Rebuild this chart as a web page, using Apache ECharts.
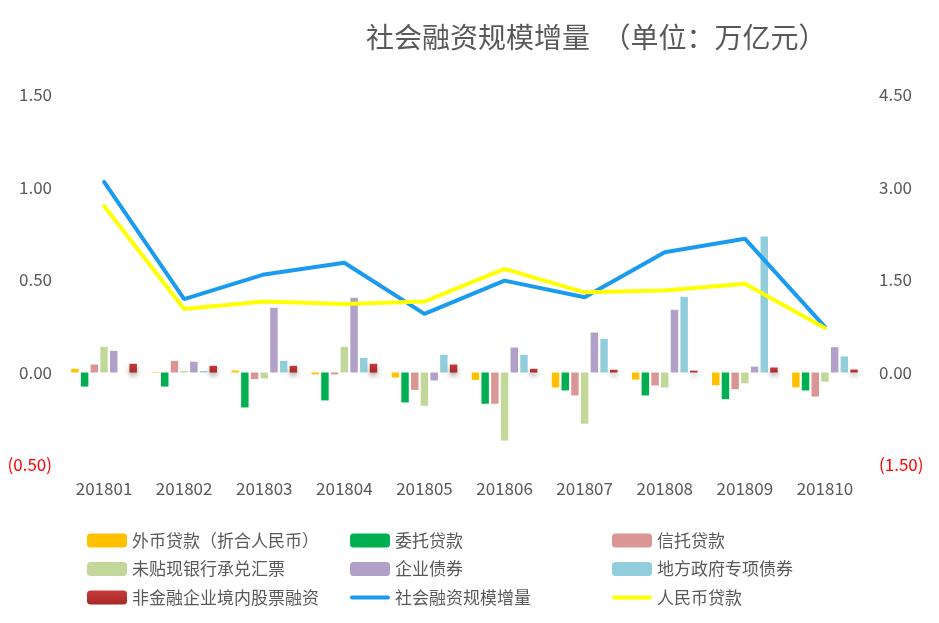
<!DOCTYPE html>
<html>
<head>
<meta charset="utf-8">
<script src="https://cdn.jsdelivr.net/npm/echarts@6/dist/echarts.min.js"></script>
<style>html,body{margin:0;padding:0;background:#fff;}#c{width:939px;height:623px;}</style>
</head>
<body>
<div id="c"></div>
<script>
var categories = ['201801','201802','201803','201804','201805','201806','201807','201808','201809','201810'];
var fxLoans      = [0.02, -0.003, 0.011, -0.01, -0.027, -0.04, -0.081, -0.038, -0.069, -0.08];
var entrusted    = [-0.076, -0.076, -0.189, -0.151, -0.162, -0.169, -0.097, -0.124, -0.144, -0.097];
var trust        = [0.043, 0.063, -0.036, -0.01, -0.094, -0.169, -0.124, -0.07, -0.09, -0.13];
var bankerAccept = [0.139, 0.008, -0.032, 0.139, -0.18, -0.368, -0.277, -0.081, -0.058, -0.05];
var corpBonds    = [0.117, 0.058, 0.35, 0.404, -0.043, 0.135, 0.216, 0.339, 0.032, 0.137];
var localBonds   = [0.0, 0.008, 0.063, 0.079, 0.096, 0.096, 0.182, 0.409, 0.735, 0.087];
var equity       = [0.047, 0.036, 0.036, 0.047, 0.043, 0.02, 0.015, 0.01, 0.027, 0.016];
var tsfTotal     = [3.09, 1.19, 1.59, 1.78, 0.95, 1.49, 1.22, 1.95, 2.17, 0.74];
var rmbLoans     = [2.70, 1.03, 1.15, 1.11, 1.15, 1.68, 1.30, 1.33, 1.44, 0.72];

var names = ['外币贷款（折合人民币）','委托贷款','信托贷款','未贴现银行承兑汇票','企业债券','地方政府专项债券','非金融企业境内股票融资','社会融资规模增量','人民币贷款'];
var barColors = ['#FFC000','#00B050','#DA9694','#C4D79B','#B1A0C7','#92CDDC'];
var barData = [fxLoans, entrusted, trust, bankerAccept, corpBonds, localBonds];

var FONT = '"Noto Sans CJK SC", "Noto Sans", sans-serif';
var LINE_ICON = 'path://M2,0 L38,0 A2,2 0 0 1 38,4 L2,4 A2,2 0 0 1 2,0 Z';

function fmt(v){
  var s = Math.abs(v).toFixed(2);
  return v < 0 ? '{neg|(' + s + ')}' : '{pos|' + s + '}';
}
var labelRich = {
  pos: {color:'#595959', fontSize:17, fontFamily:FONT},
  neg: {color:'#FF0000', fontSize:17, fontFamily:FONT}
};

var series = [];
for (var i = 0; i < barData.length; i++) {
  series.push({
    name: names[i], type: 'bar', yAxisIndex: 0,
    data: barData[i],
    barGap: '30%', barCategoryGap: '18%',
    itemStyle: {color: barColors[i]}
  });
}
series.push({
  name: names[6], type: 'bar', yAxisIndex: 0, data: equity,
  barGap: '30%', barCategoryGap: '18%',
  itemStyle: {
    color: new echarts.graphic.LinearGradient(0,0,0,1,[{offset:0,color:'#C83A3A'},{offset:1,color:'#A82828'}]),
    shadowBlur: 5, shadowColor: 'rgba(0,0,0,0.35)', shadowOffsetY: 3
  }
});
series.push({
  name: names[7], type: 'line', yAxisIndex: 1, data: tsfTotal,
  symbol: 'none', z: 5,
  lineStyle: {color:'#1B9BF0', width:4, cap:'round'},
  itemStyle: {color:'#1B9BF0'}
});
series.push({
  name: names[8], type: 'line', yAxisIndex: 1, data: rmbLoans,
  symbol: 'none', z: 5,
  lineStyle: {color:'#FFFF00', width:4, cap:'round'},
  itemStyle: {color:'#FFFF00'}
});

function legendCol(left, data){
  return {
    orient: 'vertical', left: left, top: 532, padding: 0,
    itemWidth: 40, itemHeight: 14, itemGap: 11.5, symbolKeepAspect: true,
    textStyle: {color:'#595959', fontSize:17, fontFamily:FONT},
    data: data
  };
}

var chart = echarts.init(document.getElementById('c'), null, {renderer:'canvas'});
chart.setOption({
  animation: false,
  backgroundColor: '#fff',
  title: {
    text: '社会融资规模增量  （单位：万亿元）',
    left: 366, top: 23, padding: 0,
    textStyle: {color:'#595959', fontSize:28, fontWeight:'normal', fontFamily:FONT}
  },
  legend: [
    legendCol(87, [names[0], names[3], names[6]]),
    legendCol(350, [names[1], names[4], {name: names[7], icon: LINE_ICON}]),
    legendCol(612, [names[2], names[5], {name: names[8], icon: LINE_ICON}])
  ],
  grid: {left: 64, right: 74, top: 95, bottom: 158, containLabel: false},
  xAxis: {
    type: 'category', data: categories,
    axisLine: {show:false}, axisTick: {show:false},
    axisLabel: {color:'#595959', fontSize:17, fontFamily:FONT, margin:15},
    splitLine: {show:false}
  },
  yAxis: [
    {type:'value', min:-0.5, max:1.5, interval:0.5,
     axisLine:{show:false}, axisTick:{show:false}, splitLine:{show:false},
     axisLabel:{formatter: fmt, rich: labelRich, margin: 12}},
    {type:'value', min:-1.5, max:4.5, interval:1.5,
     axisLine:{show:false}, axisTick:{show:false}, splitLine:{show:false},
     axisLabel:{formatter: fmt, rich: labelRich, margin: 14}}
  ],
  series: series
});
</script>
</body>
</html>
